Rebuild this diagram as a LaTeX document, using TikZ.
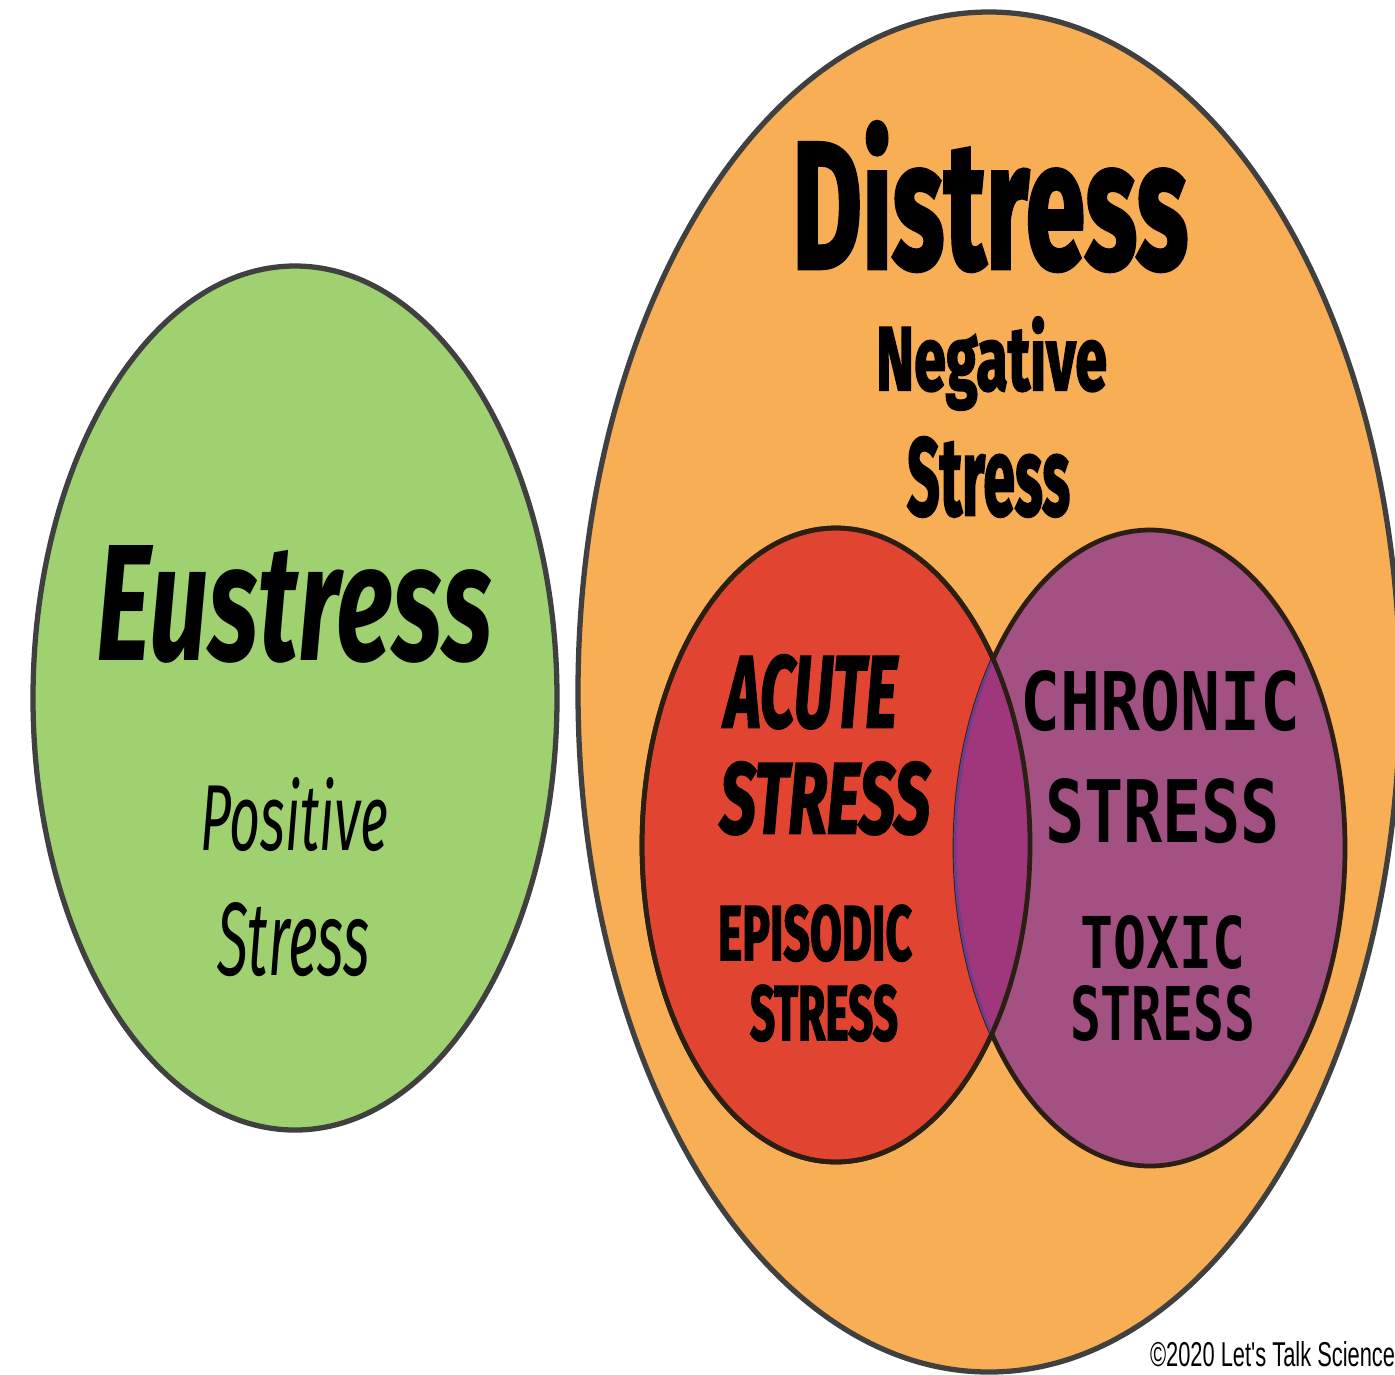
\documentclass[tikz,border=0pt]{standalone}
\usepackage{fontspec}
\usepackage{graphicx}
\usepackage{xcolor}
\usetikzlibrary{positioning}

\newfontfamily\heavyfont{Fira Sans}[BoldFeatures={FakeBold=2.5}, BoldItalicFeatures={FakeBold=2.5}]
\newfontfamily\handfont{Fira Sans}
\newfontfamily\brushfont{DejaVu Sans Mono}
\newfontfamily\notefont{Liberation Sans}

\newlength\pxu
\setlength\pxu{0.02cm}
\newcommand{\fitword}[3]{\resizebox{#1\pxu}{#2\pxu}{#3}}

\definecolor{eugreen}{HTML}{9FD171}
\definecolor{distorange}{HTML}{F7AE55}
\definecolor{acutered}{HTML}{E14431}
\definecolor{chronicpurple}{HTML}{A35083}
\definecolor{bothmagenta}{HTML}{A0377C}
\definecolor{botharc}{HTML}{6D3E8E}
\definecolor{rimgray}{HTML}{404040}
\definecolor{innerrim}{HTML}{2B1E12}

\begin{document}
\begin{tikzpicture}[
    x=0.02cm, y=-0.02cm,
    rim/.style={draw=rimgray, line width=3pt},
    innerrim/.style={draw=innerrim, line width=2.7pt},
    word/.style={anchor=base west, inner sep=0pt, outer sep=0pt}
]
    \useasboundingbox[fill=white] (0,0) rectangle (1395,1374);

    % Outer sets
    \filldraw[rim, fill=eugreen] (295,698) ellipse [x radius=262, y radius=432];
    \filldraw[rim, fill=distorange] (989,692) ellipse [x radius=411, y radius=680];

    % Acute and chronic sets
    \filldraw[innerrim, fill=acutered] (836,845) ellipse [x radius=194, y radius=317];
    \filldraw[innerrim, fill=chronicpurple] (1150,848) ellipse [x radius=195, y radius=318];
    \begin{scope}
        \clip (836,845) ellipse [x radius=194, y radius=317];
        \fill[bothmagenta] (1150,848) ellipse [x radius=195, y radius=318];
        \draw[botharc, line width=1.7pt] (1150,848) ellipse [x radius=195, y radius=318];
    \end{scope}
    \draw[innerrim] (836,845) ellipse [x radius=194, y radius=317];

    % Labels
    \node[word] (distress) at (792,268) {\fitword{396}{146}{\heavyfont\bfseries Distress}};
    \node[word] (negative) at (876,390) {\fitword{231}{73}{\heavyfont\bfseries Negative}};
    \node[word] (negstress) at (907,515) {\fitword{163}{78}{\heavyfont\bfseries Stress}};
    \node[word] (eustress) at (96,660) {\fitword{396}{115}{\handfont\bfseries\itshape Eustress}};
    \node[word] (positive) at (200,850) {\fitword{188}{73}{\handfont\itshape Positive}};
    \node[word] (posstress) at (217,975) {\fitword{153}{73}{\handfont\itshape Stress}};
    \node[word] (acute) at (725,727) {\fitword{172}{72}{\heavyfont\bfseries\itshape ACUTE}};
    \node[word] (acutestress) at (720,833) {\fitword{210}{71}{\heavyfont\bfseries\itshape STRESS}};
    \node[word] (episodic) at (718,960) {\fitword{194}{55}{\heavyfont\bfseries EPISODIC}};
    \node[word] (episodicstress) at (750,1040) {\fitword{148}{55}{\heavyfont\bfseries STRESS}};
    \node[word] (chronic) at (1020,730) {\fitword{280}{60}{\brushfont\bfseries CHRONIC}};
    \node[word] (chronicstress) at (1045,842) {\fitword{235}{64}{\brushfont\bfseries STRESS}};
    \node[word] (toxic) at (1080,968) {\fitword{165}{53}{\brushfont\bfseries TOXIC}};
    \node[word] (toxicstress) at (1070,1040) {\fitword{185}{55}{\brushfont\bfseries STRESS}};
    \node[word] (credit) at (1150,1366) {\fitword{245}{25}{\notefont ©2020 Let's Talk Science}};
\end{tikzpicture}
\end{document}
